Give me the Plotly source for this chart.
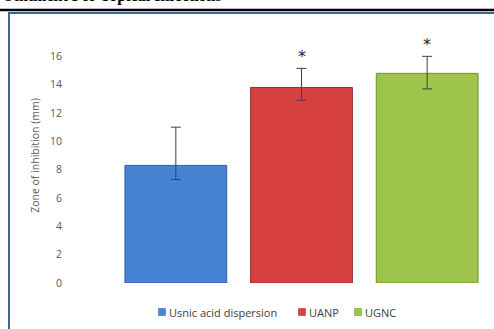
import plotly.graph_objects as go

categories = ["Usnic acid dispersion", "UANP", "UGNC"]
values = [8.3, 13.8, 14.8]
err_plus = [2.7, 1.35, 1.2]
err_minus = [1.0, 0.9, 1.1]
colors = ["#4683D3", "#D64140", "#9DC54B"]
line_colors = ["#2F5F9E", "#9E2C2B", "#6F8F33"]
y_ticks = [0, 2, 4, 6, 8, 10, 12, 14, 16]
stars = ["", "*", "*"]

W, H = 494, 329
L, R, T, B = 113, 4, 28, 46
pw = W - L - R
ph = H - T - B

def px_x(x):
    return (x - L) / pw

def px_y(y):
    return (H - B - y) / ph

fig = go.Figure()
for i, c in enumerate(categories):
    fig.add_trace(go.Bar(
        x=[i], y=[values[i]], name=c,
        marker=dict(color=colors[i], line=dict(color=line_colors[i], width=1)),
        error_y=dict(type="data", symmetric=False, array=[err_plus[i]],
                     arrayminus=[err_minus[i]], color="#404040", thickness=1, width=5),
        width=0.81, showlegend=False,
    ))

for i, s in enumerate(stars):
    if s:
        fig.add_annotation(x=i, y=values[i] + err_plus[i], text=s, showarrow=False,
                           yanchor="bottom", yshift=0,
                           font=dict(family="DejaVu Sans", size=16, color="#222222"))

# page title (cut off at top, as in the source)
fig.add_annotation(xref="paper", yref="paper", x=px_x(0), y=px_y(7), xanchor="left",
                   yanchor="bottom", text="<b>Ointment For Topical Infections</b>",
                   showarrow=False, font=dict(family="Liberation Serif", size=16, color="#000000"))

shapes = [
    dict(type="line", xref="paper", yref="paper", x0=px_x(0), x1=px_x(494), y0=px_y(10), y1=px_y(10),
         line=dict(color="#000000", width=2.5)),
    dict(type="line", xref="paper", yref="paper", x0=px_x(8.5), x1=px_x(494), y0=px_y(13), y1=px_y(13),
         line=dict(color="#3C679E", width=2)),
    dict(type="line", xref="paper", yref="paper", x0=px_x(9), x1=px_x(9), y0=px_y(12), y1=px_y(329),
         line=dict(color="#3C679E", width=2)),
]

# manual legend
leg_sq_x = [162, 302, 358]
leg_y = 312
for i, c in enumerate(categories):
    shapes.append(dict(type="rect", xref="paper", yref="paper",
                       x0=px_x(leg_sq_x[i] - 3.5), x1=px_x(leg_sq_x[i] + 3.5),
                       y0=px_y(leg_y - 3.5), y1=px_y(leg_y + 3.5),
                       fillcolor=colors[i], line=dict(color=line_colors[i], width=0.5)))
    fig.add_annotation(xref="paper", yref="paper", x=px_x(leg_sq_x[i] + 5), y=px_y(leg_y),
                       xanchor="left", yanchor="middle", text=c, showarrow=False,
                       font=dict(family="Open Sans", size=11, color="#404040"))

fig.update_layout(
    width=W, height=H,
    margin=dict(l=L, r=R, t=T, b=B),
    paper_bgcolor="white", plot_bgcolor="white",
    shapes=shapes,
    showlegend=False,
    xaxis=dict(range=[-0.5, 2.5], showticklabels=False, showgrid=False, zeroline=False,
               showline=False, ticks=""),
    yaxis=dict(range=[0, 18], tickvals=y_ticks, showgrid=False, zeroline=False, showline=False,
               ticks="", ticklabelstandoff=50,
               tickfont=dict(family="Open Sans", size=10.5, color="#595959"),
               title=dict(text="Zone of inhibition (mm)", standoff=8,
                          font=dict(family="Open Sans", size=10.5, color="#595959"))),
    bargap=0.19,
)

fig.write_html("out.html")
